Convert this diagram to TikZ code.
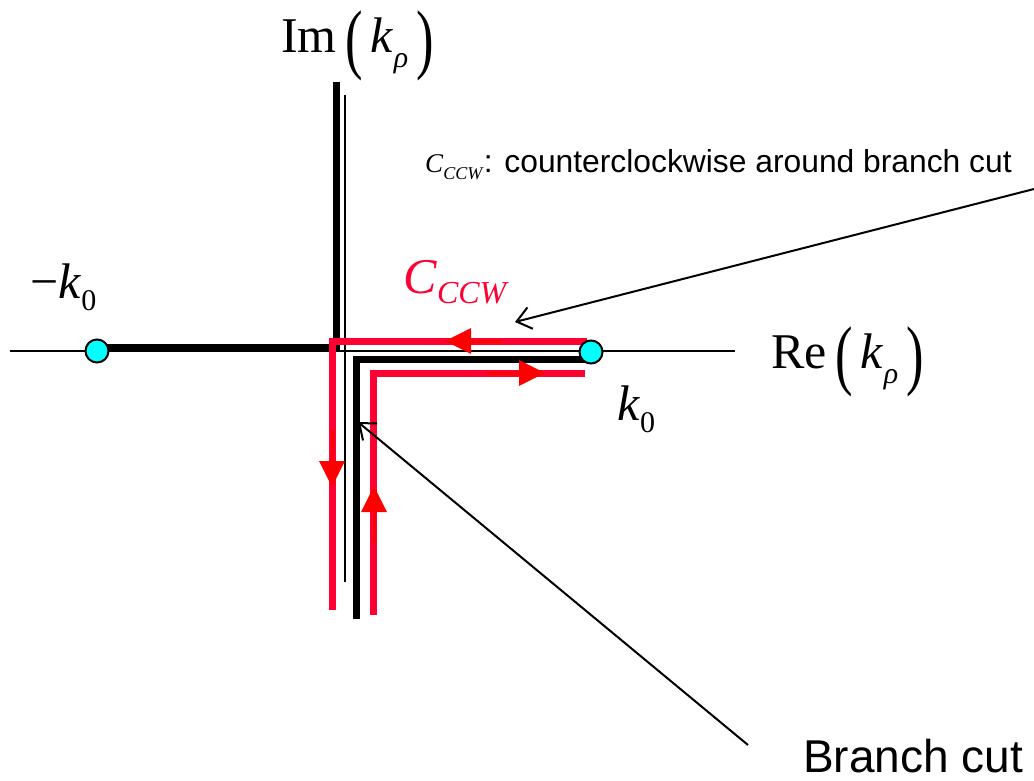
\documentclass[tikz,border=0pt]{standalone}
\usepackage{fontspec}
\setmainfont{Liberation Serif}
\newfontfamily\arialf{Liberation Sans}
\usetikzlibrary{arrows.meta}
\definecolor{cred}{HTML}{FF0033}
\definecolor{cpt}{HTML}{00FFFF}
\newcommand{\bigpar}[1]{\raisebox{-0.24em}{\scalebox{1.05}[1.55]{#1}}}
\begin{document}
\begin{tikzpicture}[x=1pt,y=-1pt,
  axis/.style={line width=2pt},
  cut/.style={line width=7pt, line join=miter},
  path red/.style={cred, line width=7pt, line join=miter},
  redarrow/.style={red, line width=3pt, -{Triangle[length=26pt,width=25pt]}},
  pointer/.style={line width=2pt, -{Straight Barb[length=14pt,width=22pt,line width=2pt]}},
  pt/.style={circle, draw=black, line width=2pt, fill=cpt, minimum size=23pt, inner sep=0pt},
  big/.style={inner sep=0pt, font=\fontsize{50}{50}\selectfont},
  note/.style={inner sep=0pt, font=\fontsize{31.8}{31.8}\selectfont\arialf}
]
\useasboundingbox (0,0) rectangle (1034,781);
% axes
\coordinate (xl) at (10,351); \coordinate (xr) at (735,351);
\coordinate (yt) at (345,95); \coordinate (yb) at (345,582);
\draw[axis] (xl) -- (xr);
\draw[axis] (yt) -- (yb);
% thick black lines
\coordinate (a1) at (97,347); \coordinate (a2) at (336,347); \coordinate (a3) at (336,82);
\draw[cut] (a1) -- (a2) -- (a3);
\coordinate (b1) at (590,359); \coordinate (b2) at (356,359); \coordinate (b3) at (356,619);
\draw[cut] (b1) -- (b2) -- (b3);
% red contour
\coordinate (r1) at (587,341); \coordinate (r2) at (332,341); \coordinate (r3) at (332,610);
\draw[path red] (r1) -- (r2) -- (r3);
\coordinate (s1) at (585,373); \coordinate (s2) at (373,373); \coordinate (s3) at (373,615);
\draw[path red] (s1) -- (s2) -- (s3);
% arrowheads
\coordinate (h1s) at (502,341); \coordinate (h1t) at (445,341);
\draw[redarrow] (h1s) -- (h1t);
\coordinate (h2s) at (487,373); \coordinate (h2t) at (545,373);
\draw[redarrow] (h2s) -- (h2t);
\coordinate (h3s) at (332,430); \coordinate (h3t) at (332,487);
\draw[redarrow] (h3s) -- (h3t);
\coordinate (h4s) at (374,543); \coordinate (h4t) at (374,486);
\draw[redarrow] (h4s) -- (h4t);
% branch points
\node[pt] (km) at (97,351) {};
\node[pt] (kp) at (591,352) {};
% labels
\node[big, anchor=base west] (im) at (281,53) {Im\,\bigpar{(}\,\textit{k}\raisebox{-0.3em}{\fontsize{30}{30}\selectfont\textit{ρ}}\,\bigpar{)}};
\node[big, anchor=base west] (re) at (771,368) {Re\,\bigpar{(}\,\textit{k}\raisebox{-0.3em}{\fontsize{30}{30}\selectfont\textit{ρ}}\,\bigpar{)}};
\node[big, anchor=base west] (mk) at (30,298) {−\textit{k}\raisebox{-0.25em}{\fontsize{30}{30}\selectfont 0}};
\node[big, anchor=base west] (pk) at (617,420) {\textit{k}\raisebox{-0.25em}{\fontsize{30}{30}\selectfont 0}};
\node[big, anchor=base west, text=cred] (cc) at (403,293) {\textit{C}\raisebox{-0.2em}{\fontsize{32}{32}\selectfont\textit{CCW}}};
\node[note, anchor=base west] (desc) at (425,173) {{\fontsize{27}{27}\selectfont\rmfamily\textit{C}\raisebox{-0.25em}{\fontsize{18}{18}\selectfont\textit{CCW}}}: counterclockwise around branch cut};
\node[inner sep=0pt, anchor=base west, font=\fontsize{46}{46}\selectfont\arialf] (bc) at (803,772) {Branch cut};
% pointers
\coordinate (p1s) at (1034,189); \coordinate (p1t) at (515,322);
\draw[pointer] (p1s) -- (p1t);
\coordinate (p2s) at (748,745); \coordinate (p2t) at (358,422);
\draw[pointer] (p2s) -- (p2t);
\end{tikzpicture}
\end{document}
